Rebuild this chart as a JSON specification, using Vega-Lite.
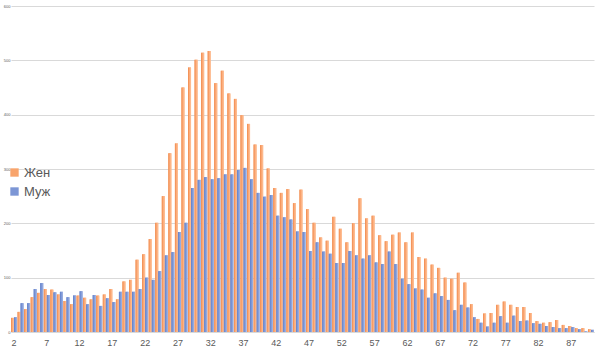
{
  "$schema": "https://vega.github.io/schema/vega-lite/v6.json",
  "width": 583,
  "height": 326,
  "autosize": "none",
  "padding": {"left": 11, "top": 6, "right": 14, "bottom": 31},
  "background": "#FFFFFF",
  "config": {
    "view": {"stroke": null},
    "font": "Liberation Sans"
  },
  "datasets": {
    "src": [
      {"age":2,"Жен":26,"Муж":27},{"age":3,"Жен":37,"Муж":53},{"age":4,"Жен":42,"Муж":53},{"age":5,"Жен":64,"Муж":79},
      {"age":6,"Жен":72,"Муж":90},{"age":7,"Жен":79,"Муж":68},{"age":8,"Жен":78,"Муж":73},{"age":9,"Жен":69,"Муж":74},
      {"age":10,"Жен":57,"Муж":64},{"age":11,"Жен":51,"Муж":67},{"age":12,"Жен":67,"Муж":75},{"age":13,"Жен":63,"Муж":51},
      {"age":14,"Жен":60,"Муж":68},{"age":15,"Жен":67,"Муж":48},{"age":16,"Жен":69,"Муж":62},{"age":17,"Жен":79,"Муж":55},
      {"age":18,"Жен":60,"Муж":74},{"age":19,"Жен":93,"Муж":74},{"age":20,"Жен":96,"Муж":74},{"age":21,"Жен":133,"Муж":79},
      {"age":22,"Жен":143,"Муж":100},{"age":23,"Жен":171,"Муж":96},{"age":24,"Жен":201,"Муж":112},{"age":25,"Жен":250,"Муж":141},
      {"age":26,"Жен":329,"Муж":147},{"age":27,"Жен":347,"Муж":184},{"age":28,"Жен":450,"Муж":201},{"age":29,"Жен":487,"Муж":265},
      {"age":30,"Жен":501,"Муж":280},{"age":31,"Жен":514,"Муж":285},{"age":32,"Жен":517,"Муж":281},{"age":33,"Жен":458,"Муж":283},
      {"age":34,"Жен":481,"Муж":290},{"age":35,"Жен":439,"Муж":290},{"age":36,"Жен":429,"Муж":298},{"age":37,"Жен":399,"Муж":302},
      {"age":38,"Жен":383,"Муж":281},{"age":39,"Жен":345,"Муж":256},{"age":40,"Жен":344,"Муж":249},{"age":41,"Жен":301,"Муж":252},
      {"age":42,"Жен":265,"Муж":214},{"age":43,"Жен":256,"Муж":211},{"age":44,"Жен":263,"Муж":207},{"age":45,"Жен":237,"Муж":185},
      {"age":46,"Жен":262,"Муж":184},{"age":47,"Жен":226,"Муж":149},{"age":48,"Жен":201,"Муж":165},{"age":49,"Жен":174,"Муж":148},
      {"age":50,"Жен":168,"Муж":144},{"age":51,"Жен":212,"Муж":127},{"age":52,"Жен":190,"Муж":127},{"age":53,"Жен":165,"Муж":149},
      {"age":54,"Жен":200,"Муж":141},{"age":55,"Жен":246,"Муж":135},{"age":56,"Жен":209,"Муж":141},{"age":57,"Жен":214,"Муж":128},
      {"age":58,"Жен":178,"Муж":125},{"age":59,"Жен":167,"Муж":148},{"age":60,"Жен":179,"Муж":125},{"age":61,"Жен":183,"Муж":98},
      {"age":62,"Жен":165,"Муж":88},{"age":63,"Жен":183,"Муж":80},{"age":64,"Жен":138,"Муж":78},{"age":65,"Жен":135,"Муж":63},
      {"age":66,"Жен":124,"Муж":71},{"age":67,"Жен":118,"Муж":66},{"age":68,"Жен":100,"Муж":59},{"age":69,"Жен":98,"Муж":40},
      {"age":70,"Жен":109,"Муж":50},{"age":71,"Жен":91,"Муж":45},{"age":72,"Жен":51,"Муж":27},{"age":73,"Жен":24,"Муж":17},
      {"age":74,"Жен":34,"Муж":10},{"age":75,"Жен":35,"Муж":17},{"age":76,"Жен":50,"Муж":29},{"age":77,"Жен":56,"Муж":17},
      {"age":78,"Жен":50,"Муж":30},{"age":79,"Жен":46,"Муж":20},{"age":80,"Жен":46,"Муж":21},{"age":81,"Жен":35,"Муж":16},
      {"age":82,"Жен":20,"Муж":15},{"age":83,"Жен":17,"Муж":11},{"age":84,"Жен":18,"Муж":9},{"age":85,"Жен":22,"Муж":7},
      {"age":86,"Жен":13,"Муж":7},{"age":87,"Жен":11,"Муж":9},{"age":88,"Жен":7,"Муж":5},{"age":89,"Жен":7,"Муж":1},
      {"age":90,"Жен":5,"Муж":4}
    ]
  },
  "data": {"name": "src"},
  "transform": [
    {"fold": ["Жен", "Муж"], "as": ["sex", "n"]}
  ],
  "encoding": {
    "x": {
      "field": "age",
      "type": "ordinal",
      "scale": {"paddingInner": 0.08, "paddingOuter": 0},
      "axis": {
        "title": null,
        "values": [2,7,12,17,22,27,32,37,42,47,52,57,62,67,72,77,82,87],
        "labelAngle": 0,
        "labelFontSize": 9,
        "labelColor": "#595959",
        "labelPadding": 6,
        "ticks": false,
        "domainColor": "#D9D9D9",
        "grid": false
      }
    },
    "xOffset": {"field": "sex", "type": "nominal", "sort": ["Жен", "Муж"], "scale": {"domain": ["Жен", "Муж"], "paddingInner": 0}},
    "y": {
      "field": "n",
      "type": "quantitative",
      "scale": {"domain": [0, 600], "nice": false},
      "axis": {
        "title": null,
        "values": [0,100,200,300,400,500,600],
        "labelFontSize": 4,
        "labelColor": "#595959",
        "labelPadding": 1,
        "ticks": false,
        "domain": false,
        "gridColor": "#D9D9D9",
        "gridWidth": 1
      }
    }
  },
  "layer": [
    {
      "mark": {"type": "bar", "opacity": 1},
      "encoding": {
        "color": {
          "field": "sex",
          "type": "nominal",
          "sort": ["Жен", "Муж"],
          "scale": {"domain": ["Жен", "Муж"], "range": ["#F8A46C", "#7C96D5"]},
          "legend": {
            "title": null,
            "orient": "none",
            "legendX": -3,
            "legendY": 160,
            "symbolType": "square",
            "symbolSize": 70,
            "symbolStrokeWidth": 0,
            "labelFontSize": 13,
            "labelColor": "#595959",
            "labelOffset": 3,
            "rowPadding": 5
          }
        }
      }
    },
    {
      "transform": [{"filter": "datum.sex === 'Жен'"}],
      "mark": {
        "type": "bar",
        "fill": {"gradient": "linear", "x1": 0, "y1": 0, "x2": 1, "y2": 0, "stops": [{"offset": 0, "color": "#F0884A"}, {"offset": 0.5, "color": "#FBAB79"}, {"offset": 1, "color": "#FFC39B"}]}
      }
    },
    {
      "transform": [{"filter": "datum.sex === 'Муж'"}],
      "mark": {
        "type": "bar",
        "fill": {"gradient": "linear", "x1": 0, "y1": 0, "x2": 1, "y2": 0, "stops": [{"offset": 0, "color": "#5F7EC9"}, {"offset": 0.5, "color": "#7F99D7"}, {"offset": 1, "color": "#A2B5E5"}]}
      }
    }
  ]
}
